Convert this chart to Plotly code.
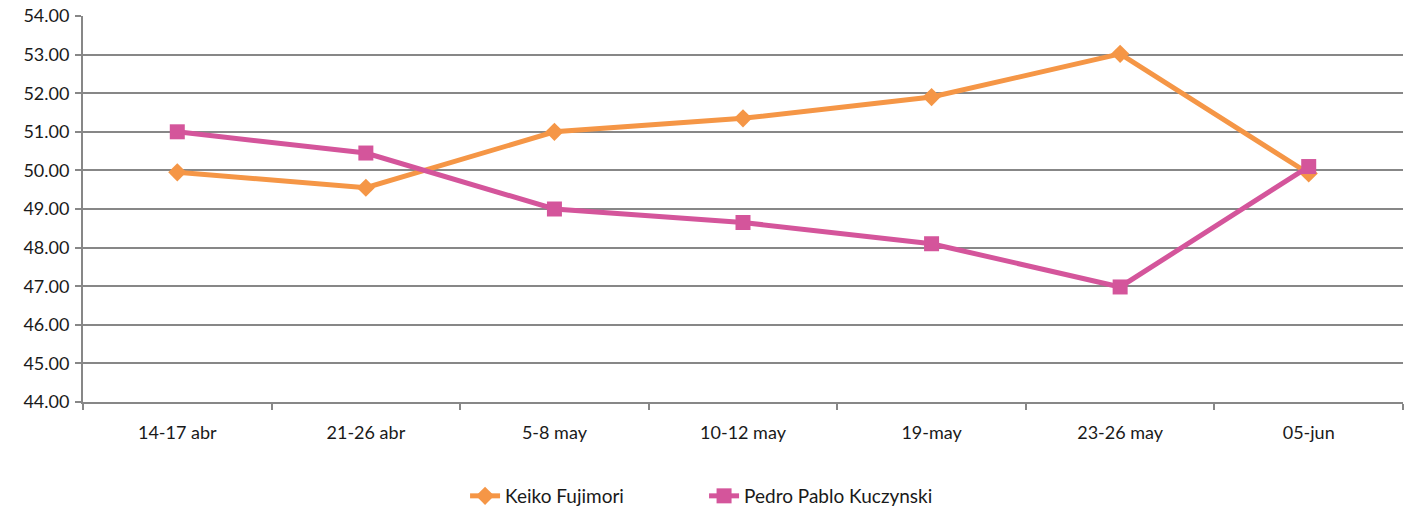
import plotly.graph_objects as go

categories = ["14-17 abr", "21-26 abr", "5-8 may", "10-12 may", "19-may", "23-26 may", "05-jun"]
keiko = [49.95, 49.55, 51.0, 51.35, 51.9, 53.02, 49.92]
ppk = [51.0, 50.45, 49.0, 48.65, 48.1, 46.98, 50.1]
y_ticks = [44, 45, 46, 47, 48, 49, 50, 51, 52, 53, 54]

FONT = "Lato, 'Open Sans', sans-serif"
GRID = "#878787"

fig = go.Figure()
fig.add_trace(go.Scatter(
    x=categories, y=keiko, name="Keiko Fujimori", mode="lines+markers",
    line=dict(color="#F59646", width=5),
    marker=dict(symbol="diamond", size=14, color="#F59646"),
))
fig.add_trace(go.Scatter(
    x=categories, y=ppk, name="Pedro Pablo Kuczynski", mode="lines+markers",
    line=dict(color="#D4559B", width=5),
    marker=dict(symbol="square", size=15, color="#D4559B"),
))

fig.update_layout(
    width=1411, height=508,
    margin=dict(l=83, r=8, t=16, b=106, autoexpand=False),
    paper_bgcolor="white", plot_bgcolor="white",
    font=dict(family=FONT, size=18, color="#1a1a1a"),
    showlegend=True,
    legend=dict(orientation="h", x=0.4705, xanchor="center", y=-0.2435, yanchor="middle",
                font=dict(size=19), entrywidth=194, entrywidthmode="pixels",
                tracegroupgap=0),
    xaxis=dict(
        type="category", range=[-0.5, len(categories) - 0.5],
        tickson="boundaries", ticks="outside", ticklen=6,
        tickcolor=GRID, tickwidth=1.5, automargin=False,
        showline=True, linecolor=GRID, linewidth=2,
        showgrid=False, tickfont=dict(size=18), ticklabelstandoff=13,
    ),
    yaxis=dict(
        range=[44, 54], tickvals=y_ticks, tickformat=".2f", automargin=False,
        ticks="outside", ticklen=6, tickcolor=GRID, tickwidth=1.5,
        showline=True, linecolor=GRID, linewidth=2,
        showgrid=True, gridcolor=GRID, gridwidth=1.5,
        zeroline=False, tickfont=dict(size=18), ticklabelstandoff=2,
    ),
)

fig.write_html("out.html", config={"displayModeBar": False},
               post_script="document.body.style.margin='0';")
